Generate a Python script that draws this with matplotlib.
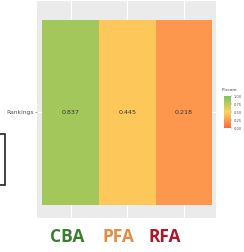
import numpy as np
import matplotlib.pyplot as plt
from matplotlib.colors import LinearSegmentedColormap
from matplotlib.patches import Rectangle

methods = ["CBA", "PFA", "RFA"]
rows = ["Rankings"]
pscores = [0.837, 0.445, 0.218]
method_colors = ["#3b7d2e", "#e98a3f", "#b2152a"]
cbar_ticks = [0.00, 0.25, 0.50, 0.75, 1.00]

cmap = LinearSegmentedColormap.from_list("pscore", ["#fc6943", "#fed35c", "#7ac25a"])

fig = plt.figure(figsize=(2.44, 2.52), dpi=100)
ax = fig.add_axes([0.152, 0.135, 0.734, 0.862])
ax.set_facecolor("#ebebeb")

# tiles
xe = np.arange(len(methods) + 1) + 0.5
ye = np.array([0.5, 1.5])
Z = np.array([pscores])
mesh = ax.pcolormesh(xe, ye, Z, cmap=cmap, vmin=0, vmax=1, zorder=2)
for i, v in enumerate(pscores):
    ax.text(i + 1, 1, "%.3f" % v, ha="center", va="center", fontsize=4.6, color="#333333", zorder=3)

ax.set_xlim(0.41, 3.57)
ax.set_ylim(0.43, 1.602)
ax.set_xticks(range(1, len(methods) + 1))
ax.set_xticklabels([])
ax.tick_params(axis="x", length=0)
ax.set_yticks([1])
ax.set_yticklabels(rows, fontsize=4.3, color="#555555")
ax.tick_params(axis="y", length=1.5, width=0.4, color="#555555", pad=1)
ax.grid(True, color="white", linewidth=0.8, zorder=1)
ax.set_axisbelow(True)
for s in ax.spines.values():
    s.set_visible(False)

# colourbar
cax = fig.add_axes([0.918, 0.492, 0.029, 0.127])
cb = fig.colorbar(mesh, cax=cax, ticks=cbar_ticks)
cb.outline.set_visible(False)
cb.ax.tick_params(labelsize=2.6, length=0.8, width=0.3, colors="#555555", pad=1)
cb.ax.set_yticklabels(["%.2f" % t for t in cbar_ticks])
fig.text(0.91, 0.635, "P-score", fontsize=3.2, color="#444444", ha="left", va="bottom")

# method names underneath
xpos = [0.275, 0.485, 0.675]
for name, c, xp in zip(methods, method_colors, xpos):
    fig.text(xp, 0.058, name, fontsize=12.5, fontweight="bold", color=c,
             ha="center", va="center", family="Open Sans")

# partly visible box at the left edge
fig.patches.append(Rectangle((-0.05, 1 - 185 / 252), 0.05 + 5 / 244, 51 / 252,
                             transform=fig.transFigure, fill=False,
                             edgecolor="#222222", linewidth=1.2))

fig.savefig("out.png", dpi=100)
